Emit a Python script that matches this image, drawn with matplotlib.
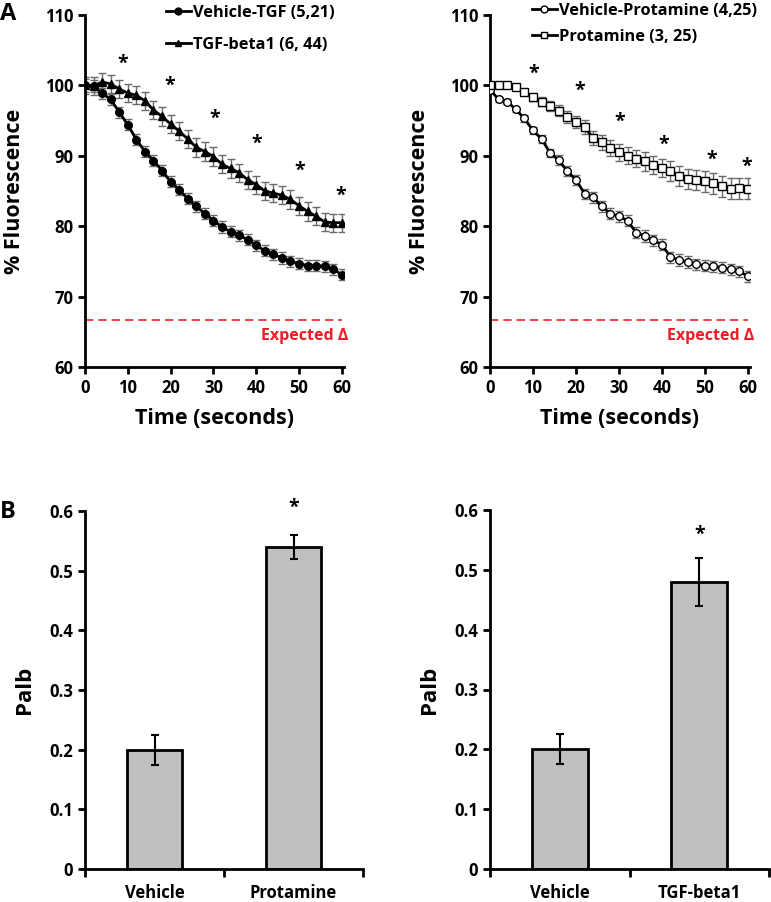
import numpy as np
import matplotlib
matplotlib.use("Agg")
import matplotlib.pyplot as plt
from matplotlib.ticker import FixedLocator

plt.rcParams['font.family'] = ['Open Sans', 'DejaVu Sans']
plt.rcParams['font.weight'] = 'bold'
plt.rcParams['axes.labelweight'] = 'bold'

# ---- data ------------------------------------------------------------
time_s = [0, 2, 4, 6, 8, 10, 12, 14, 16, 18, 20, 22, 24, 26, 28, 30,
          32, 34, 36, 38, 40, 42, 44, 46, 48, 50, 52, 54, 56, 58, 60]

veh_tgf = [100.0, 99.9, 98.9, 98.0, 96.2, 94.4, 92.3, 90.6, 89.3, 87.9,
           86.3, 85.2, 83.9, 82.8, 81.8, 80.8, 79.9, 79.2, 78.7, 78.1,
           77.3, 76.5, 76.0, 75.5, 75.0, 74.7, 74.4, 74.4, 74.3, 73.9, 73.1]
veh_tgf_err = [0.9, 0.9, 0.8, 0.8, 0.8, 0.8, 0.8, 0.8, 0.8, 0.8,
               0.8, 0.8, 0.8, 0.8, 0.8, 0.8, 0.8, 0.8, 0.8, 0.8,
               0.8, 0.8, 0.8, 0.8, 0.8, 0.8, 0.8, 0.8, 0.8, 0.8, 0.8]
tgf_beta1 = [100.0, 99.9, 100.5, 100.2, 99.5, 98.9, 98.6, 97.8, 96.5, 95.6,
             94.5, 93.5, 92.4, 91.2, 90.6, 89.9, 88.8, 88.2, 87.6, 86.6,
             85.9, 85.0, 84.7, 84.4, 83.8, 82.9, 82.1, 81.4, 80.6, 80.5, 80.5]
tgf_beta1_err = [1.2, 1.3, 1.3, 1.3, 1.3, 1.3, 1.3, 1.3, 1.3, 1.3,
                 1.3, 1.3, 1.3, 1.3, 1.3, 1.3, 1.3, 1.3, 1.3, 1.3,
                 1.3, 1.3, 1.3, 1.3, 1.3, 1.3, 1.3, 1.3, 1.3, 1.3, 1.3]

veh_prot = [99.4, 98.0, 97.7, 96.6, 95.3, 93.6, 92.4, 90.4, 89.4, 87.8,
            86.6, 84.6, 84.1, 82.8, 81.8, 81.4, 80.8, 79.1, 78.6, 78.0,
            77.4, 75.6, 75.2, 74.9, 74.6, 74.4, 74.3, 74.1, 73.9, 73.6, 72.9]
veh_prot_err = [0.3, 0.3, 0.4, 0.4, 0.5, 0.5, 0.6, 0.6, 0.7, 0.7,
                0.7, 0.7, 0.8, 0.8, 0.8, 0.8, 0.8, 0.8, 0.8, 0.8,
                0.8, 0.8, 0.8, 0.8, 0.8, 0.8, 0.8, 0.8, 0.8, 0.8, 0.8]
protamine = [100.0, 100.1, 100.0, 99.8, 99.1, 98.3, 97.7, 97.1, 96.4, 95.5,
             94.8, 94.1, 92.5, 91.9, 91.1, 90.5, 90.0, 89.6, 89.2, 88.7,
             88.3, 87.8, 87.1, 86.7, 86.6, 86.4, 86.1, 85.7, 85.3, 85.4, 85.3]
protamine_err = [0.2, 0.2, 0.3, 0.3, 0.4, 0.5, 0.6, 0.7, 0.8, 0.9,
                 0.9, 1.0, 1.0, 1.1, 1.1, 1.2, 1.2, 1.2, 1.3, 1.3,
                 1.3, 1.4, 1.4, 1.4, 1.4, 1.5, 1.5, 1.5, 1.5, 1.5, 1.5]

star_t_left = [8.9, 19.7, 30.4, 40.1, 50.2, 59.7]
star_y_left = [103.1, 100.0, 95.2, 91.7, 87.8, 84.3]
star_t_right = [10.1, 20.8, 30.2, 40.5, 51.6, 59.7]
star_y_right = [101.7, 99.2, 94.8, 91.5, 89.4, 88.5]

expected_delta = 66.7

bar_cats_left = ['Vehicle', 'Protamine']
bar_vals_left = [0.20, 0.54]
bar_err_left = [0.025, 0.02]
bar_cats_right = ['Vehicle', 'TGF-beta1']
bar_vals_right = [0.20, 0.48]
bar_err_right = [0.025, 0.04]
bar_star_left = 0.605
bar_star_right = 0.558

# ---- figure ----------------------------------------------------------
W, H = 771, 902
fig = plt.figure(figsize=(W / 100, H / 100), dpi=100)


def style_axes(ax):
    for s in ['top', 'right']:
        ax.spines[s].set_visible(False)
    for s in ['left', 'bottom']:
        ax.spines[s].set_linewidth(2)
    ax.tick_params(width=2, length=5, labelsize=12, direction='out')


def time_panel(ax, series, legend_pos, spacing):
    style_axes(ax)
    handles = []
    for y, e, mk, mfc, label in series:
        ax.errorbar(time_s, y, yerr=e, fmt='none', ecolor='#6a6a6a',
                    elinewidth=1, capsize=3, capthick=1, zorder=2)
        h, = ax.plot(time_s, y, color='black', lw=2, marker=mk, ms=5.5,
                     mfc=mfc, mec='black', mew=1, zorder=3, label=label)
        handles.append(h)
    ax.set_xlim(0, 60.5)
    ax.set_ylim(60, 110)
    ax.set_xticks([0, 10, 20, 30, 40, 50, 60])
    ax.set_yticks([60, 70, 80, 90, 100, 110])
    ax.set_xlabel('Time (seconds)', fontsize=15.5, labelpad=8)
    ax.set_ylabel('% Fluorescence', fontsize=15.5, labelpad=14)
    ax.axhline(expected_delta, xmin=0, xmax=60 / 60.5, color='#ee1c25',
               lw=1.2, ls=(0, (5, 3)))
    ax.text(61.5, 64.4, 'Expected Δ', color='#ee1c25', fontsize=11.5,
            fontweight='bold', ha='right', va='center')
    fig.legend(handles=handles, loc='upper left', bbox_to_anchor=legend_pos,
               frameon=False, fontsize=11.8, handlelength=1.5,
               handletextpad=0.15, labelspacing=spacing, borderaxespad=0,
               borderpad=0, markerscale=0.9)


ax1 = fig.add_axes([85 / W, 535 / H, 259 / W, 352 / H])
time_panel(ax1, [(veh_tgf, veh_tgf_err, 'o', 'black', 'Vehicle-TGF (5,21)'),
                 (tgf_beta1, tgf_beta1_err, '^', 'black', 'TGF-beta1 (6, 44)')],
           (166 / W, 1 - 5 / H), 0.95)
for t, y in zip(star_t_left, star_y_left):
    ax1.text(t, y, '*', fontsize=14, ha='center', va='center')

ax2 = fig.add_axes([490 / W, 535 / H, 260 / W, 352 / H])
time_panel(ax2, [(veh_prot, veh_prot_err, 'o', 'white', 'Vehicle-Protamine (4,25)'),
                 (protamine, protamine_err, 's', 'white', 'Protamine (3, 25)')],
           (532 / W, 1 - 3 / H), 0.6)
for t, y in zip(star_t_right, star_y_right):
    ax2.text(t, y, '*', fontsize=14, ha='center', va='center')


def bar_panel(ax, cats, vals, errs, star_y):
    style_axes(ax)
    x = np.arange(len(cats))
    ax.bar(x, vals, width=0.4, color='#c0c0c0', edgecolor='black', lw=2,
           zorder=2)
    ax.errorbar(x, vals, yerr=errs, fmt='none', ecolor='black',
                elinewidth=1.5, capsize=3, capthick=1.5, zorder=3)
    ax.text(1, star_y, '*', fontsize=14, ha='center', va='center')
    ax.set_xlim(-0.5, 1.5)
    ax.set_ylim(0, 0.6)
    ax.set_xticks(x)
    ax.set_xticklabels(cats, fontsize=12)
    ax.tick_params(axis='x', length=0, pad=11)
    ax.xaxis.set_minor_locator(FixedLocator([-0.5, 0.5, 1.5]))
    ax.tick_params(axis='x', which='minor', length=6, width=2)
    ax.set_yticks([0, 0.1, 0.2, 0.3, 0.4, 0.5, 0.6])
    ax.set_yticklabels(['0', '0.1', '0.2', '0.3', '0.4', '0.5', '0.6'])
    ax.set_ylabel('Palb', fontsize=16, labelpad=10)


ax3 = fig.add_axes([85 / W, 33 / H, 278 / W, 358 / H])
bar_panel(ax3, bar_cats_left, bar_vals_left, bar_err_left, bar_star_left)
ax4 = fig.add_axes([490 / W, 33 / H, 279 / W, 359 / H])
bar_panel(ax4, bar_cats_right, bar_vals_right, bar_err_right, bar_star_right)

fig.text(0 / W, 1 - 14 / H, 'A', fontsize=17, fontweight='bold', va='center')
fig.text(0 / W, 1 - 512 / H, 'B', fontsize=17, fontweight='bold', va='center')

fig.savefig('out.png', dpi=100)
